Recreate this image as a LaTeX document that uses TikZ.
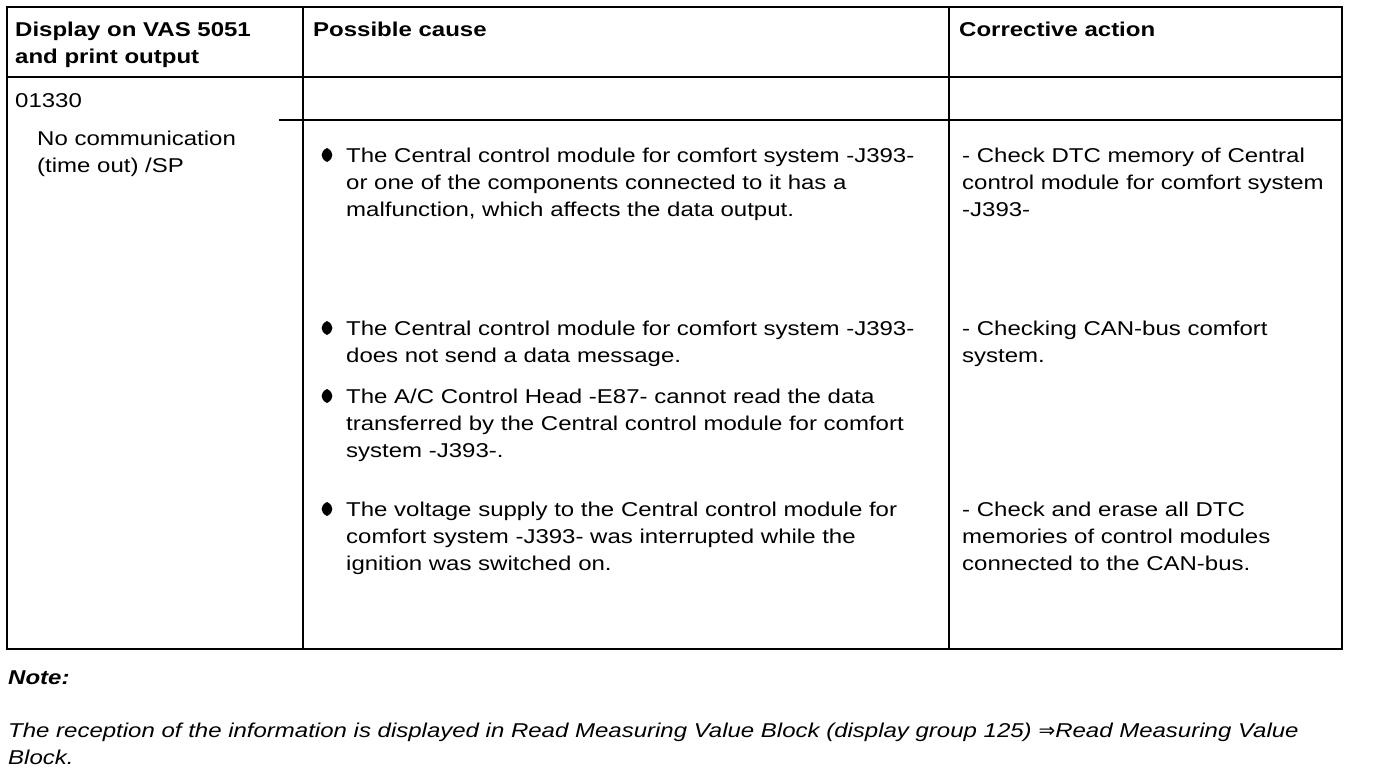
\documentclass[tikz,border=0pt]{standalone}
\usepackage{fontspec}
\setmainfont{Liberation Sans}[FakeStretch=1.2]
\newfontfamily\arrowfont{DejaVu Sans}
\newcommand\fs{\fontsize{20}{27}\selectfont}
\newcommand\fl{\rule{0pt}{20pt}}
\begin{document}
\begin{tikzpicture}[x=1pt,y=-1pt,
  cell/.style={anchor=north west, inner sep=0pt, align=left, font=\fs},
  hcell/.style={cell, font=\fs\bfseries},
  rule/.style={line width=1.7pt, line cap=rect},
  bulletpic/.pic={\fill (0,-7) .. controls (7.2,-3.6) and (7.2,3.6) .. (0,7) .. controls (-7.2,3.6) and (-7.2,-3.6) .. cycle;}
]
\useasboundingbox (0,0) rectangle (1376,772);
% table rules
\coordinate (tl) at (7,7);
\coordinate (br) at (1342,649);
\draw[rule] (tl) rectangle (br);
\draw[rule] (303,7) -- (303,649);
\draw[rule] (949,7) -- (949,649);
\draw[rule] (7,77) -- (1342,77);
\draw[rule] (280,120) -- (1342,120);
% header
\node[hcell] (h1) at (15,36-20) {\fl Display on VAS 5051\\and print output};
\node[hcell] (h2) at (313,36-20) {\fl Possible cause};
\node[hcell] (h3) at (959,36-20) {\fl Corrective action};
% column 1
\node[cell] (code) at (15,107-20) {\fl 01330};
\node[cell] (msg) at (37,145-20) {\fl No communication\\(time out) /SP};
% causes
\pic at (327,155) {bulletpic};
\node[cell] (c1) at (346,162-20) {\fl The Central control module for comfort system -J393-\\or one of the components connected to it has a\\malfunction, which affects the data output.};
\pic at (327,328) {bulletpic};
\node[cell] (c2) at (346,335-20) {\fl The Central control module for comfort system -J393-\\does not send a data message.};
\pic at (327,396) {bulletpic};
\node[cell] (c3) at (346,403-20) {\fl The A/C Control Head -E87- cannot read the data\\transferred by the Central control module for comfort\\system -J393-.};
\pic at (327,509) {bulletpic};
\node[cell] (c4) at (346,516-20) {\fl The voltage supply to the Central control module for\\comfort system -J393- was interrupted while the\\ignition was switched on.};
% actions
\node[cell] (a1) at (962,162-20) {\fl - Check DTC memory of Central\\control module for comfort system\\-J393-};
\node[cell] (a2) at (962,335-20) {\fl - Checking CAN-bus comfort\\system.};
\node[cell] (a3) at (962,516-20) {\fl - Check and erase all DTC\\memories of control modules\\connected to the CAN-bus.};
% note
\node[cell, font=\fs\bfseries\itshape] (note) at (8,684-20) {\fl Note:};
\node[cell, font=\fs\itshape] (ntext) at (8,737-20) {\fl The reception of the information is displayed in Read Measuring Value Block (display group 125) {\arrowfont\upshape ⇒}Read Measuring Value\\Block.};
\end{tikzpicture}
\end{document}
